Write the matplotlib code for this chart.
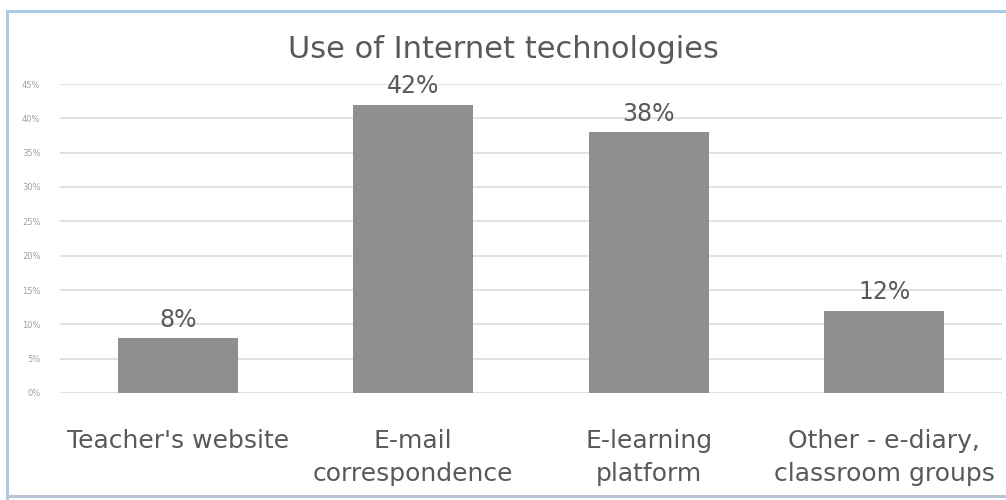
import matplotlib.pyplot as plt
from matplotlib.patches import Rectangle
from matplotlib.ticker import MultipleLocator, PercentFormatter

categories = ["Teacher's website", "E-mail\ncorrespondence",
              "E-learning\nplatform", "Other - e-diary,\nclassroom groups"]
shares = [8, 42, 38, 12]
share_labels = ["8%", "42%", "38%", "12%"]

plt.rcParams['font.family'] = ['DejaVu Sans']
text_grey = '#595959'

fig = plt.figure(figsize=(10.06, 5.0), dpi=100, facecolor='white')
ax = fig.add_axes([60 / 1006, 1 - 393 / 500, 942 / 1006, 309 / 500])

xs = range(len(categories))
ax.bar(xs, shares, width=0.51, color='#8f8f8f', zorder=3)

for x, v, lab in zip(xs, shares, share_labels):
    ax.text(x, v + 0.9, lab, ha='center', va='bottom', fontsize=17, color=text_grey)

ax.set_xlim(-0.5, len(categories) - 0.5)
ax.set_ylim(0, 45)
ax.yaxis.set_major_locator(MultipleLocator(5))
ax.yaxis.set_major_formatter(PercentFormatter(decimals=0))
ax.set_xticks(list(xs))
ax.set_xticklabels(categories, fontsize=18, color=text_grey, linespacing=1.45)
ax.tick_params(axis='y', labelsize=6, colors='#a0a0a0', length=0, pad=14)
ax.tick_params(axis='x', length=0, pad=26)
ax.grid(True, axis='y', color='#dcdcdc', linewidth=1.2, zorder=0)
for s in ax.spines.values():
    s.set_visible(False)

fig.text(0.5, 1 - 49 / 500, "Use of Internet technologies", ha='center', va='center',
         fontsize=22, color=text_grey)

# chart frame edges
fig.add_artist(Rectangle((6 / 1006, 0), 3 / 1006, 1 - 10 / 500, transform=fig.transFigure,
                         color='#a9cbe8', lw=0))
fig.add_artist(Rectangle((6 / 1006, 1 - 13 / 500), 1000 / 1006, 3 / 500, transform=fig.transFigure,
                         color='#a9cbe8', lw=0))
fig.add_artist(Rectangle((6 / 1006, 2 / 500), 1000 / 1006, 3 / 500, transform=fig.transFigure,
                         color='#b7c6d2', lw=0))

fig.savefig('out.png', dpi=100, facecolor='white')
